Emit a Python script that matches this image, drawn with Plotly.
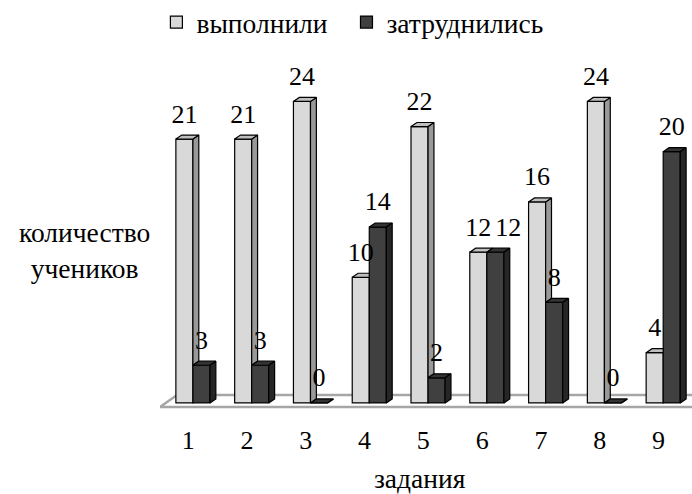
import plotly.graph_objects as go

categories = ["1", "2", "3", "4", "5", "6", "7", "8", "9"]
done = [21, 21, 24, 10, 22, 12, 16, 24, 4]
hard = [3, 3, 0, 14, 2, 12, 8, 0, 20]
series_names = ["выполнили", "затруднились"]

FONT = "Liberation Serif"
FS_NUM = 26    # data labels and tick labels
FS_TXT = 27.5  # titles and legend
W = 0.29      # bar width (category units)
DX = 0.10     # depth offset x
DY = 0.32     # depth offset y
LABEL_GAP = 0.8
LIGHT, LIGHT_SIDE, LIGHT_TOP = "#d9d9d9", "#999999", "#bfbfbf"
DARK, DARK_SIDE, DARK_TOP = "#404040", "#262626", "#333333"

pos = list(range(1, len(categories) + 1))


def poly(xs, ys, pts):
    for px, py in pts + [pts[0]]:
        xs.append(px)
        ys.append(py)
    xs.append(None)
    ys.append(None)


ls_x, ls_y, lt_x, lt_y = [], [], [], []
ds_x, ds_y, dt_x, dt_y = [], [], [], []
for c, hl, hd in zip(pos, done, hard):
    l0, l1 = c - W, c
    d0, d1 = c, c + W
    if hl > hd:
        poly(ls_x, ls_y, [(l1, hd), (l1 + DX, hd + DY), (l1 + DX, hl + DY), (l1, hl)])
        poly(lt_x, lt_y, [(l0, hl), (l0 + DX, hl + DY), (l1 + DX, hl + DY), (l1, hl)])
    elif hl == hd:
        poly(lt_x, lt_y, [(l0, hl), (l0 + DX, hl + DY), (l1 + DX, hl + DY), (l1, hl)])
    else:
        poly(lt_x, lt_y, [(l0, hl), (l0 + DX, hl + DY), (l1, hl + DY), (l1, hl)])
    poly(ds_x, ds_y, [(d1, 0), (d1 + DX, DY), (d1 + DX, hd + DY), (d1, hd)])
    poly(dt_x, dt_y, [(d0, hd), (d0 + DX, hd + DY), (d1 + DX, hd + DY), (d1, hd)])

fig = go.Figure()
fig.add_trace(go.Bar(x=[c - W / 2 for c in pos], y=done, width=W, name=series_names[0],
                     legend="legend",
                     marker=dict(color=LIGHT, line=dict(color="black", width=1.2))))
fig.add_trace(go.Bar(x=[c + W / 2 for c in pos], y=hard, width=W, name=series_names[1],
                     legend="legend2",
                     marker=dict(color=DARK, line=dict(color="black", width=1.2))))

for xs, ys, col in [(ls_x, ls_y, LIGHT_SIDE), (lt_x, lt_y, LIGHT_TOP),
                    (dt_x, dt_y, DARK_TOP), (ds_x, ds_y, DARK_SIDE)]:
    fig.add_trace(go.Scatter(x=xs, y=ys, mode="lines", fill="toself", fillcolor=col,
                             line=dict(color="black", width=1.2), showlegend=False,
                             hoverinfo="skip"))

# data labels (a dark label that would collide with an equal light label is nudged right)
fig.add_trace(go.Scatter(x=[c - W / 2 for c in pos], y=[v + LABEL_GAP for v in done],
                         mode="text", text=[str(v) for v in done], textposition="top center",
                         textfont=dict(family=FONT, size=FS_NUM, color="black"),
                         showlegend=False, hoverinfo="skip", cliponaxis=False))
fig.add_trace(go.Scatter(x=[c + W / 2 for c in pos], y=[v + LABEL_GAP for v in hard],
                         mode="text", text=[str(v) for v in hard],
                         textposition=["top right" if d == h else "top center"
                                       for d, h in zip(done, hard)],
                         textfont=dict(family=FONT, size=FS_NUM, color="black"),
                         showlegend=False, hoverinfo="skip", cliponaxis=False))

XMIN, XMAX = 0.44, 9.49
FY0, FY1, FSH = -0.32, 0.64, 0.29
fig.add_shape(type="path", xref="x", yref="y", layer="below",
              path=f"M{XMIN},{FY0} L{XMAX + 0.5},{FY0} L{XMAX + 0.5 + FSH},{FY1} L{XMIN + FSH},{FY1} Z",
              line=dict(color="#a6a6a6", width=2.5), fillcolor="white")

legend_common = dict(orientation="h", xref="container", yref="container", y=0.955,
                     xanchor="left", yanchor="middle", font=dict(family=FONT, size=FS_TXT),
                     itemclick=False, bgcolor="rgba(0,0,0,0)")

fig.update_layout(
    width=692, height=494,
    margin=dict(l=160, r=0, t=70, b=76),
    paper_bgcolor="white", plot_bgcolor="white",
    barmode="overlay",
    font=dict(family=FONT, size=FS_TXT, color="black"),
    showlegend=True,
    legend=dict(x=0.226, **legend_common),
    legend2=dict(x=0.5007, **legend_common),
    xaxis=dict(range=[XMIN, XMAX], tickvals=[c - 0.08 for c in pos], ticktext=categories,
               showgrid=False, zeroline=False, showline=False, ticks="",
               tickfont=dict(family=FONT, size=FS_NUM), ticklabelstandoff=4),
    yaxis=dict(range=[-1.2, 26.5], visible=False),
    annotations=[
        dict(text="количество<br>учеников", xref="paper", yref="paper", x=-0.141, y=0.48,
             xanchor="center", yanchor="middle",
             showarrow=False, font=dict(family=FONT, size=FS_TXT), align="center"),
        dict(text="задания", xref="paper", yref="paper", x=0.489, y=-0.173,
             xanchor="center", yanchor="middle",
             showarrow=False, font=dict(family=FONT, size=FS_TXT)),
    ],
)

fig.write_html("out.html", config={"displayModeBar": False},
               post_script="document.body.style.margin='0';")
